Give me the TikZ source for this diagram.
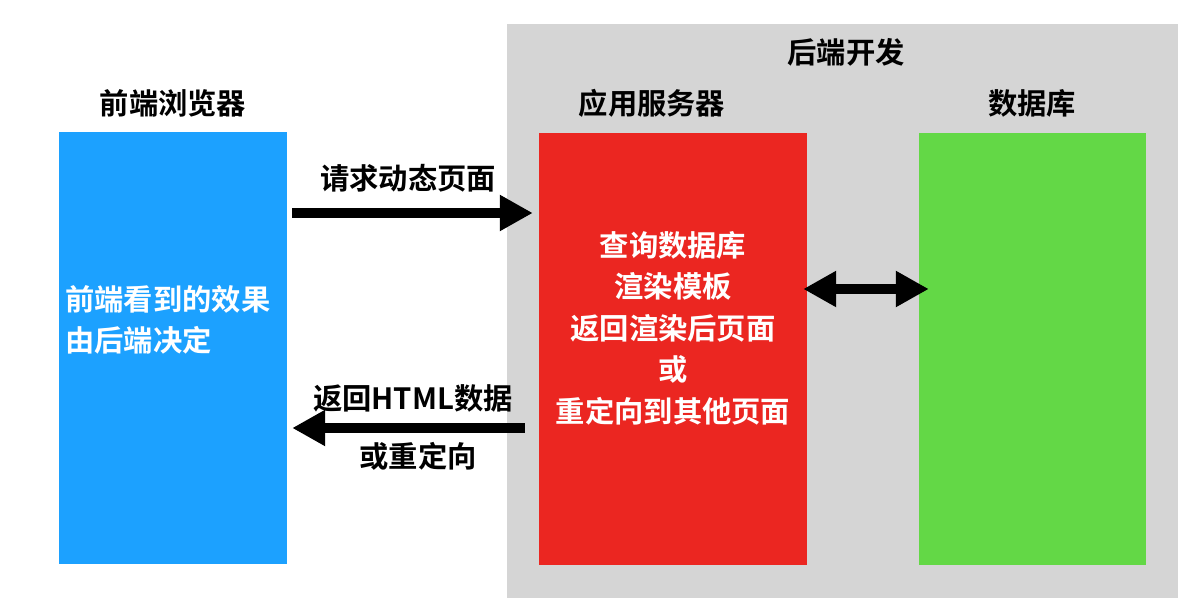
\documentclass[tikz,border=0pt]{standalone}
\usepackage{fontspec}
\setmainfont{Noto Sans CJK SC Bold}
\usetikzlibrary{arrows.meta}
\definecolor{bggray}{RGB}{213,213,213}
\definecolor{frontblue}{RGB}{28,161,255}
\definecolor{appred}{RGB}{235,38,33}
\definecolor{dbgreen}{RGB}{99,216,70}

\begin{document}
\begin{tikzpicture}[x=1pt, y=-1pt,
    box/.style={draw=none, minimum height=432pt, inner sep=0pt},
    lbl/.style={font=\fontsize{29.3}{35}\selectfont, inner sep=0pt},
    inner/.style={font=\fontsize{29.3}{41.5}\selectfont, text=white, inner sep=0pt},
    bigarrow/.style={line width=10pt, -{Triangle[length=33pt,width=34pt]}},
    ]
    \useasboundingbox (0,0) rectangle (1178,601);
    % back end area
    \fill[bggray] (507,24) rectangle (1178,598);
    \node[lbl] (backlbl) at (846,52) {后端开发};

    % the three columns
    \node[box, fill=frontblue, minimum width=228pt] (browser) at (173,348) {};
    \node[box, fill=appred, minimum width=268pt] (server) at (673,349) {};
    \node[box, fill=dbgreen, minimum width=227pt] (db) at (1032.5,349) {};

    \node[lbl] (browserlbl) at (173,103) {前端浏览器};
    \node[lbl] (serverlbl) at (652,103) {应用服务器};
    \node[lbl] (dblbl) at (1032,103) {数据库};

    \node[inner, align=left, anchor=west] (browsertxt) at (65,320)
      {前端看到的效果\\由后端决定};
    \node[inner, align=center] (servertxt) at (673,328)
      {查询数据库\\渲染模板\\返回渲染后页面\\或\\重定向到其他页面};

    % requests
    \coordinate (reqy) at (0,213);
    \coordinate (respy) at (0,428);
    \coordinate (dby) at (0,289);
    \draw[bigarrow, shorten <=5pt, shorten >=6pt]
      (browser.east |- reqy) -- (server.west |- reqy);
    \node[lbl] (reqlbl) at (408,178) {请求动态页面};
    \draw[bigarrow, shorten <=14pt, shorten >=5pt]
      (server.west |- respy) -- (browser.east |- respy);
    \node[lbl] (resplbl) at (413,398) {返回HTML数据};
    \node[lbl] (resplbl2) at (418,456) {或重定向};
    \draw[bigarrow, {Triangle[length=33pt,width=34pt]}-{Triangle[length=33pt,width=34pt]},
      shorten <=-4pt, shorten >=-10pt]
      (server.east |- dby) -- (db.west |- dby);
\end{tikzpicture}
\end{document}
